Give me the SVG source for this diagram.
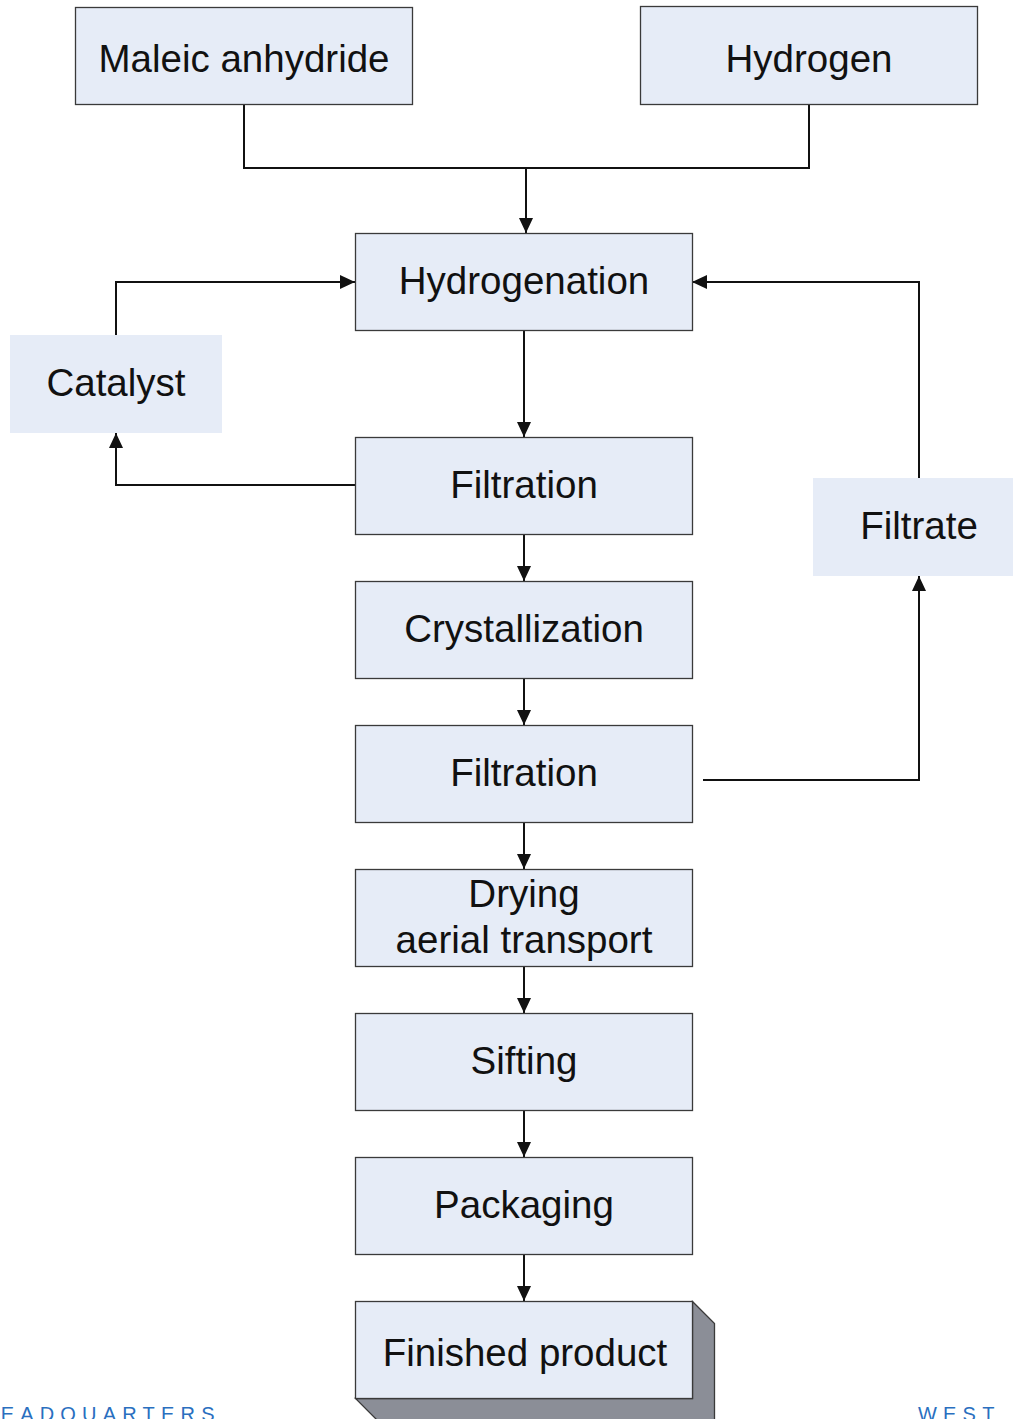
<svg xmlns="http://www.w3.org/2000/svg" width="1013" height="1419" viewBox="0 0 1013 1419">
<style>
.box{fill:#e6ecf7;stroke:#3a3a3a;stroke-width:1.3}
.plain{fill:#e6ecf7}
.lbl{font-family:"Liberation Sans",Arial,sans-serif;font-size:38.5px;fill:#111;text-anchor:middle}
.wm{font-family:"Liberation Sans",Arial,sans-serif;font-size:20px;fill:#2a6fbf;letter-spacing:6.2px}
.ln{fill:none;stroke:#111;stroke-width:2;marker-end:url(#ah)}
.ln0{fill:none;stroke:#111;stroke-width:2}
.side{fill:#8b8e97;stroke:#3a3a3a;stroke-width:1.3}
</style>
<defs>
<marker id="ah" markerWidth="15" markerHeight="14" refX="15" refY="7" orient="auto" markerUnits="userSpaceOnUse">
<path d="M0,0 L15,7 L0,14 Z" fill="#111"/>
</marker>
</defs>
<rect width="1013" height="1419" fill="#fff"/>
<g id="connectors">
<path class="ln0" d="M244,105 V168 H809 V105"/>
<path class="ln" d="M526,168 V233"/>
<path class="ln" d="M524,330 V437"/>
<path class="ln" d="M524,534 V581"/>
<path class="ln" d="M524,678 V725"/>
<path class="ln" d="M524,822 V869"/>
<path class="ln" d="M524,966 V1013"/>
<path class="ln" d="M524,1110 V1157"/>
<path class="ln" d="M524,1254 V1301"/>
<path class="ln" d="M355,485 H116 V433"/>
<path class="ln" d="M116,335 V282 H355"/>
<path class="ln" d="M703,780 H919 V576"/>
<path class="ln" d="M919,478 V282 H692"/>
</g>
<g id="maleic"><rect class="box" x="75.5" y="7.5" width="337" height="97"/><text class="lbl" x="244" y="72">Maleic anhydride</text></g>
<g id="hydrogen"><rect class="box" x="640.5" y="6.5" width="337" height="98"/><text class="lbl" x="809" y="72">Hydrogen</text></g>
<g id="hydrogenation"><rect class="box" x="355.5" y="233.5" width="337" height="97"/><text class="lbl" x="524" y="294">Hydrogenation</text></g>
<g id="catalyst"><rect class="plain" x="10" y="335" width="212" height="98"/><text class="lbl" x="116" y="396">Catalyst</text></g>
<g id="filtration1"><rect class="box" x="355.5" y="437.5" width="337" height="97"/><text class="lbl" x="524" y="498">Filtration</text></g>
<g id="filtrate"><rect class="plain" x="813" y="478" width="200" height="98"/><text class="lbl" x="919" y="539">Filtrate</text></g>
<g id="crystallization"><rect class="box" x="355.5" y="581.5" width="337" height="97"/><text class="lbl" x="524" y="642">Crystallization</text></g>
<g id="filtration2"><rect class="box" x="355.5" y="725.5" width="337" height="97"/><text class="lbl" x="524" y="786">Filtration</text></g>
<g id="drying"><rect class="box" x="355.5" y="869.5" width="337" height="97"/><text class="lbl" x="524" y="907">Drying</text><text class="lbl" x="524" y="953">aerial transport</text></g>
<g id="sifting"><rect class="box" x="355.5" y="1013.5" width="337" height="97"/><text class="lbl" x="524" y="1074">Sifting</text></g>
<g id="packaging"><rect class="box" x="355.5" y="1157.5" width="337" height="97"/><text class="lbl" x="524" y="1218">Packaging</text></g>
<g id="finished">
<path class="side" d="M692.5,1301.5 L714.5,1323.5 V1420 H377 L355.5,1398.5 H692.5 Z"/>
<rect class="box" x="355.5" y="1301.5" width="337" height="97"/>
<text class="lbl" x="525" y="1366">Finished product</text>
</g>
<text class="wm" x="-20" y="1421">HEADQUARTERS</text>
<text class="wm" x="918" y="1421">WEST</text>
</svg>
